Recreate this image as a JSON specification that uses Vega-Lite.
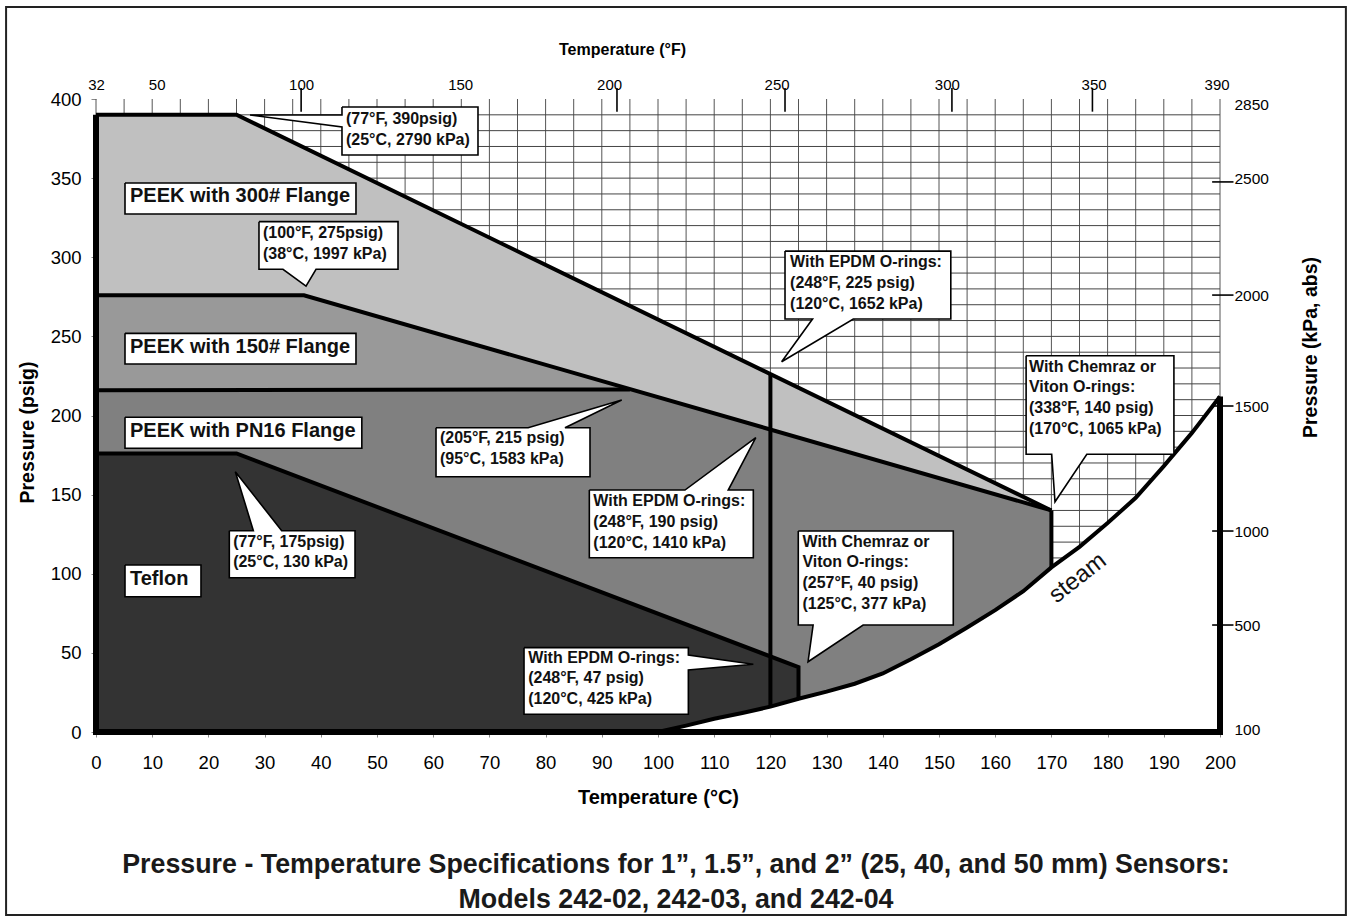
{
  "$schema": "https://vega.github.io/schema/vega-lite/v6.json",
  "width": 1124,
  "height": 633,
  "autosize": {"type": "none"},
  "padding": {"left": 96, "top": 99, "right": 128, "bottom": 187},
  "background": "white",
  "config": {
    "view": {"stroke": null},
    "axis": {"labelFont": "Liberation Sans", "titleFont": "Liberation Sans", "labelColor": "#000", "titleColor": "#000"},
    "text": {"font": "Liberation Sans"}
  },
  "resolve": {"axis": {"x": "independent", "y": "independent"}},
  "datasets": {
    "frame": [{"x1": -16.0, "x2": 222.4, "y1": -115.6, "y2": 458.1}],
    "gridV": [{"c":0},{"c":5},{"c":10},{"c":15},{"c":20},{"c":25},{"c":30},{"c":35},{"c":40},{"c":45},{"c":50},{"c":55},{"c":60},{"c":65},{"c":70},{"c":75},{"c":80},{"c":85},{"c":90},{"c":95},{"c":100},{"c":105},{"c":110},{"c":115},{"c":120},{"c":125},{"c":130},{"c":135},{"c":140},{"c":145},{"c":150},{"c":155},{"c":160},{"c":165},{"c":170},{"c":175},{"c":180},{"c":185},{"c":190},{"c":195},{"c":200}],
    "gridH": [{"p":10},{"p":20},{"p":30},{"p":40},{"p":50},{"p":60},{"p":70},{"p":80},{"p":90},{"p":100},{"p":110},{"p":120},{"p":130},{"p":140},{"p":150},{"p":160},{"p":170},{"p":180},{"p":190},{"p":200},{"p":210},{"p":220},{"p":230},{"p":240},{"p":250},{"p":260},{"p":270},{"p":280},{"p":290},{"p":300},{"p":310},{"p":320},{"p":330},{"p":340},{"p":350},{"p":360},{"p":370},{"p":380},{"p":390}],
    "polys": [
      {"id":"white","i":0,"t":100,"p":0},{"id":"white","i":1,"t":105,"p":4},{"id":"white","i":2,"t":110,"p":8.4},{"id":"white","i":3,"t":115,"p":12},{"id":"white","i":4,"t":120,"p":16},{"id":"white","i":5,"t":125,"p":21},{"id":"white","i":6,"t":130,"p":25.5},{"id":"white","i":7,"t":135,"p":30.5},{"id":"white","i":8,"t":140,"p":37},{"id":"white","i":9,"t":145,"p":46},{"id":"white","i":10,"t":150,"p":55.5},{"id":"white","i":11,"t":155,"p":66},{"id":"white","i":12,"t":160,"p":77},{"id":"white","i":13,"t":165,"p":89},{"id":"white","i":14,"t":170,"p":104},{"id":"white","i":15,"t":175,"p":117},{"id":"white","i":16,"t":180,"p":132},{"id":"white","i":17,"t":185,"p":148},{"id":"white","i":18,"t":190,"p":168},{"id":"white","i":19,"t":195,"p":189},{"id":"white","i":20,"t":200,"p":212},{"id":"white","i":21,"t":200,"p":0},{"id":"white","i":22,"t":100,"p":0},

      {"id":"p300","i":0,"t":0,"p":0},{"id":"p300","i":1,"t":0,"p":390},{"id":"p300","i":2,"t":25,"p":390},{"id":"p300","i":3,"t":170,"p":140},{"id":"p300","i":4,"t":170,"p":104},{"id":"p300","i":5,"t":165,"p":89},{"id":"p300","i":6,"t":160,"p":77},{"id":"p300","i":7,"t":155,"p":66},{"id":"p300","i":8,"t":150,"p":55.5},{"id":"p300","i":9,"t":145,"p":46},{"id":"p300","i":10,"t":140,"p":37},{"id":"p300","i":11,"t":135,"p":30.5},{"id":"p300","i":12,"t":130,"p":25.5},{"id":"p300","i":13,"t":125,"p":21},{"id":"p300","i":14,"t":120,"p":16},{"id":"p300","i":15,"t":115,"p":12},{"id":"p300","i":16,"t":110,"p":8.4},{"id":"p300","i":17,"t":105,"p":4},{"id":"p300","i":18,"t":100,"p":0},{"id":"p300","i":19,"t":0,"p":0},

      {"id":"p150","i":0,"t":0,"p":0},{"id":"p150","i":1,"t":0,"p":276},{"id":"p150","i":2,"t":37,"p":276},{"id":"p150","i":3,"t":170,"p":140},{"id":"p150","i":4,"t":170,"p":104},{"id":"p150","i":5,"t":165,"p":89},{"id":"p150","i":6,"t":160,"p":77},{"id":"p150","i":7,"t":155,"p":66},{"id":"p150","i":8,"t":150,"p":55.5},{"id":"p150","i":9,"t":145,"p":46},{"id":"p150","i":10,"t":140,"p":37},{"id":"p150","i":11,"t":135,"p":30.5},{"id":"p150","i":12,"t":130,"p":25.5},{"id":"p150","i":13,"t":125,"p":21},{"id":"p150","i":14,"t":120,"p":16},{"id":"p150","i":15,"t":115,"p":12},{"id":"p150","i":16,"t":110,"p":8.4},{"id":"p150","i":17,"t":105,"p":4},{"id":"p150","i":18,"t":100,"p":0},{"id":"p150","i":19,"t":0,"p":0},

      {"id":"pn16","i":0,"t":0,"p":0},{"id":"pn16","i":1,"t":0,"p":216},{"id":"pn16","i":2,"t":95,"p":216.5},{"id":"pn16","i":3,"t":170,"p":140},{"id":"pn16","i":4,"t":170,"p":104},{"id":"pn16","i":5,"t":165,"p":89},{"id":"pn16","i":6,"t":160,"p":77},{"id":"pn16","i":7,"t":155,"p":66},{"id":"pn16","i":8,"t":150,"p":55.5},{"id":"pn16","i":9,"t":145,"p":46},{"id":"pn16","i":10,"t":140,"p":37},{"id":"pn16","i":11,"t":135,"p":30.5},{"id":"pn16","i":12,"t":130,"p":25.5},{"id":"pn16","i":13,"t":125,"p":21},{"id":"pn16","i":14,"t":120,"p":16},{"id":"pn16","i":15,"t":115,"p":12},{"id":"pn16","i":16,"t":110,"p":8.4},{"id":"pn16","i":17,"t":105,"p":4},{"id":"pn16","i":18,"t":100,"p":0},{"id":"pn16","i":19,"t":0,"p":0},

      {"id":"teflon","i":0,"t":0,"p":0},{"id":"teflon","i":1,"t":0,"p":176},{"id":"teflon","i":2,"t":25,"p":176},{"id":"teflon","i":3,"t":125,"p":41},{"id":"teflon","i":4,"t":125,"p":21},{"id":"teflon","i":5,"t":120,"p":16},{"id":"teflon","i":6,"t":115,"p":12},{"id":"teflon","i":7,"t":110,"p":8.4},{"id":"teflon","i":8,"t":105,"p":4},{"id":"teflon","i":9,"t":100,"p":0},{"id":"teflon","i":10,"t":0,"p":0}
    ],
    "lines": [
      {"id":"L300","i":0,"t":0,"p":390},{"id":"L300","i":1,"t":25,"p":390},{"id":"L300","i":2,"t":170,"p":140},
      {"id":"L150","i":0,"t":0,"p":276},{"id":"L150","i":1,"t":37,"p":276},{"id":"L150","i":2,"t":170,"p":140},
      {"id":"LPN16","i":0,"t":0,"p":216},{"id":"LPN16","i":1,"t":95,"p":216.5},
      {"id":"LTef","i":0,"t":0,"p":176},{"id":"LTef","i":1,"t":25,"p":176},{"id":"LTef","i":2,"t":125,"p":41},{"id":"LTef","i":3,"t":125,"p":21},
      {"id":"L170","i":0,"t":170,"p":140},{"id":"L170","i":1,"t":170,"p":104},
      {"id":"L120","i":0,"t":120,"p":226},{"id":"L120","i":1,"t":120,"p":16},
      {"id":"steam","i":0,"t":100,"p":0},{"id":"steam","i":1,"t":105,"p":4},{"id":"steam","i":2,"t":110,"p":8.4},{"id":"steam","i":3,"t":115,"p":12},{"id":"steam","i":4,"t":120,"p":16},{"id":"steam","i":5,"t":125,"p":21},{"id":"steam","i":6,"t":130,"p":25.5},{"id":"steam","i":7,"t":135,"p":30.5},{"id":"steam","i":8,"t":140,"p":37},{"id":"steam","i":9,"t":145,"p":46},{"id":"steam","i":10,"t":150,"p":55.5},{"id":"steam","i":11,"t":155,"p":66},{"id":"steam","i":12,"t":160,"p":77},{"id":"steam","i":13,"t":165,"p":89},{"id":"steam","i":14,"t":170,"p":104},{"id":"steam","i":15,"t":175,"p":117},{"id":"steam","i":16,"t":180,"p":132},{"id":"steam","i":17,"t":185,"p":148},{"id":"steam","i":18,"t":190,"p":168},{"id":"steam","i":19,"t":195,"p":189},{"id":"steam","i":20,"t":200,"p":212}
    ],
    "frameLines": [
      {"id":"F","i":0,"t":0,"p":390},{"id":"F","i":1,"t":0,"p":0},{"id":"F","i":2,"t":200,"p":0},{"id":"F","i":3,"t":200,"p":212}
    ],
    "callouts": [
      {"id":"A","i":0,"t":43.77,"p":394.9},{"id":"A","i":1,"t":67.97,"p":394.9},{"id":"A","i":2,"t":67.97,"p":364.6},{"id":"A","i":3,"t":43.77,"p":364.6},{"id":"A","i":4,"t":43.77,"p":382.3},{"id":"A","i":5,"t":27.4,"p":389.9},{"id":"A","i":6,"t":43.77,"p":389.9},{"id":"A","i":7,"t":43.77,"p":394.9},
      {"id":"B","i":0,"t":5.16,"p":346.9},{"id":"B","i":1,"t":46.26,"p":346.9},{"id":"B","i":2,"t":46.26,"p":327.3},{"id":"B","i":3,"t":5.16,"p":327.3},{"id":"B","i":4,"t":5.16,"p":346.9},
      {"id":"C","i":0,"t":29.0,"p":322.5},{"id":"C","i":1,"t":53.74,"p":322.5},{"id":"C","i":2,"t":53.74,"p":292.4},{"id":"C","i":3,"t":39.15,"p":292.4},{"id":"C","i":4,"t":37.37,"p":281.8},{"id":"C","i":5,"t":33.27,"p":292.4},{"id":"C","i":6,"t":29.0,"p":292.4},{"id":"C","i":7,"t":29.0,"p":322.5},
      {"id":"D","i":0,"t":5.16,"p":251.9},{"id":"D","i":1,"t":46.26,"p":251.9},{"id":"D","i":2,"t":46.26,"p":232.5},{"id":"D","i":3,"t":5.16,"p":232.5},{"id":"D","i":4,"t":5.16,"p":251.9},
      {"id":"E","i":0,"t":5.16,"p":198.9},{"id":"E","i":1,"t":47.3,"p":198.9},{"id":"E","i":2,"t":47.3,"p":179.3},{"id":"E","i":3,"t":5.16,"p":179.3},{"id":"E","i":4,"t":5.16,"p":198.9},
      {"id":"F","i":0,"t":5.16,"p":105.5},{"id":"F","i":1,"t":18.68,"p":105.5},{"id":"F","i":2,"t":18.68,"p":85.5},{"id":"F","i":3,"t":5.16,"p":85.5},{"id":"F","i":4,"t":5.16,"p":105.5},
      {"id":"G","i":0,"t":23.72,"p":127.2},{"id":"G","i":1,"t":28.0,"p":127.2},{"id":"G","i":2,"t":24.79,"p":164.5},{"id":"G","i":3,"t":33.04,"p":127.2},{"id":"G","i":4,"t":46.09,"p":127.2},{"id":"G","i":5,"t":46.09,"p":97.5},{"id":"G","i":6,"t":23.72,"p":97.5},{"id":"G","i":7,"t":23.72,"p":127.2},
      {"id":"H","i":0,"t":60.5,"p":192.3},{"id":"H","i":1,"t":76.9,"p":192.3},{"id":"H","i":2,"t":93.54,"p":209.8},{"id":"H","i":3,"t":83.45,"p":192.3},{"id":"H","i":4,"t":87.9,"p":192.3},{"id":"H","i":5,"t":87.9,"p":161.3},{"id":"H","i":6,"t":60.5,"p":161.3},{"id":"H","i":7,"t":60.5,"p":192.3},
      {"id":"I","i":0,"t":87.78,"p":152.9},{"id":"I","i":1,"t":104.8,"p":152.9},{"id":"I","i":2,"t":117.4,"p":186.0},{"id":"I","i":3,"t":112.5,"p":152.9},{"id":"I","i":4,"t":116.96,"p":152.9},{"id":"I","i":5,"t":116.96,"p":110.1},{"id":"I","i":6,"t":87.78,"p":110.1},{"id":"I","i":7,"t":87.78,"p":152.9},
      {"id":"J","i":0,"t":122.6,"p":303.9},{"id":"J","i":1,"t":152.1,"p":303.9},{"id":"J","i":2,"t":152.1,"p":261.0},{"id":"J","i":3,"t":134.75,"p":261.0},{"id":"J","i":4,"t":122.0,"p":234.0},{"id":"J","i":5,"t":127.5,"p":261.0},{"id":"J","i":6,"t":122.6,"p":261.0},{"id":"J","i":7,"t":122.6,"p":303.9},
      {"id":"K","i":0,"t":165.5,"p":237.8},{"id":"K","i":1,"t":191.8,"p":237.8},{"id":"K","i":2,"t":191.8,"p":175.5},{"id":"K","i":3,"t":176.3,"p":175.5},{"id":"K","i":4,"t":170.64,"p":145.5},{"id":"K","i":5,"t":170.05,"p":175.5},{"id":"K","i":6,"t":165.5,"p":175.5},{"id":"K","i":7,"t":165.5,"p":237.8},
      {"id":"L","i":0,"t":124.96,"p":127.0},{"id":"L","i":1,"t":152.54,"p":127.0},{"id":"L","i":2,"t":152.54,"p":67.6},{"id":"L","i":3,"t":136.5,"p":67.6},{"id":"L","i":4,"t":126.7,"p":44.4},{"id":"L","i":5,"t":127.6,"p":67.6},{"id":"L","i":6,"t":124.96,"p":67.6},{"id":"L","i":7,"t":124.96,"p":127.0},
      {"id":"M","i":0,"t":76.16,"p":53.3},{"id":"M","i":1,"t":105.4,"p":53.3},{"id":"M","i":2,"t":105.4,"p":48.66},{"id":"M","i":3,"t":116.96,"p":42.8},{"id":"M","i":4,"t":105.4,"p":39.2},{"id":"M","i":5,"t":105.4,"p":11.2},{"id":"M","i":6,"t":76.16,"p":11.2},{"id":"M","i":7,"t":76.16,"p":53.3}
    ],
    "calloutText": [
      {"t":44.48,"p":384.2,"label":"(77°F, 390psig)\n(25°C, 2790 kPa)"},
      {"t":29.7,"p":312.2,"label":"(100°F, 275psig)\n(38°C, 1997 kPa)"},
      {"t":24.4,"p":117.1,"label":"(77°F, 175psig)\n(25°C, 130 kPa)"},
      {"t":61.2,"p":182.6,"label":"(205°F, 215 psig)\n(95°C, 1583 kPa)"},
      {"t":88.5,"p":142.8,"label":"With EPDM O-rings:\n(248°F, 190 psig)\n(120°C, 1410 kPa)"},
      {"t":123.5,"p":293.8,"label":"With EPDM O-rings:\n(248°F, 225 psig)\n(120°C, 1652 kPa)"},
      {"t":166.0,"p":227.7,"label":"With Chemraz or\nViton O-rings:\n(338°F, 140 psig)\n(170°C, 1065 kPa)"},
      {"t":125.7,"p":117.1,"label":"With Chemraz or\nViton O-rings:\n(257°F, 40 psig)\n(125°C, 377 kPa)"},
      {"t":76.9,"p":43.8,"label":"With EPDM O-rings:\n(248°F, 47 psig)\n(120°C, 425 kPa)"}
    ],
    "regionText": [
      {"t":6.05,"p":334.9,"label":"PEEK with 300# Flange"},
      {"t":6.05,"p":239.5,"label":"PEEK with 150# Flange"},
      {"t":6.05,"p":186.4,"label":"PEEK with PN16 Flange"},
      {"t":6.05,"p":92.9,"label":"Teflon"}
    ],
    "steamText": [{"t":174.7,"p":97.3,"label":"steam"}],
    "kTicks": [{"p":347.6},{"p":276.1},{"p":206.0},{"p":127.0},{"p":67.6}],
    "fTicks": [{"c":36.5},{"c":92.7},{"c":122.6},{"c":152.3},{"c":177.3}],
    "titleLines": [
      {"t":103.2,"p":-89.1,"label":"Pressure - Temperature Specifications for 1”, 1.5”, and 2” (25, 40, and 50 mm) Sensors:"},
      {"t":103.2,"p":-111.2,"label":"Models 242-02, 242-03, and 242-04"}
    ]
  },
  "layer": [
    {
      "data": {"name": "frame"},
      "mark": {"type": "rect", "fill": "white", "fillOpacity": 0, "stroke": "#222", "strokeWidth": 2},
      "encoding": {
        "x": {"field": "x1", "type": "quantitative", "scale": {"domain": [0, 200], "nice": false, "zero": false}, "axis": null},
        "x2": {"field": "x2"},
        "y": {"field": "y1", "type": "quantitative", "scale": {"domain": [0, 400], "nice": false}, "axis": null},
        "y2": {"field": "y2"}
      }
    },
    {
      "data": {"name": "gridV"},
      "mark": {"type": "rule", "stroke": "#555", "strokeWidth": 1},
      "encoding": {
        "x": {"field": "c", "type": "quantitative", "scale": {"domain": [0, 200], "nice": false, "zero": false},
          "axis": {"orient": "bottom", "values": [0,10,20,30,40,50,60,70,80,90,100,110,120,130,140,150,160,170,180,190,200],
            "grid": false, "domain": false, "ticks": true, "tickSize": 5, "tickColor": "#888", "tickWidth": 1,
            "labelFontSize": 18.5, "labelBaseline": "alphabetic", "labelPadding": 31, "labelFlush": false, "labelOverlap": false,
            "title": "Temperature (°C)", "titleFontSize": 20, "titleFontWeight": "bold", "titleBaseline": "alphabetic", "titleX": 562, "titleY": 71}},
        "y": {"datum": 0, "type": "quantitative", "scale": {"domain": [0, 400], "nice": false}, "axis": null},
        "y2": {"datum": 400}
      }
    },
    {
      "data": {"name": "gridH"},
      "mark": {"type": "rule", "stroke": "#444", "strokeWidth": 1},
      "encoding": {
        "y": {"field": "p", "type": "quantitative", "scale": {"domain": [0, 400], "nice": false},
          "axis": {"orient": "left", "values": [0,50,100,150,200,250,300,350,400], "grid": false, "domain": false,
            "tickSize": 5, "tickColor": "#888", "tickWidth": 1, "labelFontSize": 18.5, "labelPadding": 10, "labelOverlap": false,
            "title": "Pressure (psig)", "titleFontSize": 19.5, "titleFontWeight": "bold", "titleAngle": 270, "titleBaseline": "middle", "titleX": -69, "titleY": 333}},
        "x": {"datum": 0, "type": "quantitative", "scale": {"domain": [0, 200], "nice": false, "zero": false}, "axis": null},
        "x2": {"datum": 200}
      }
    },
    {
      "data": {"name": "polys"},
      "transform": [{"filter": "datum.id === 'white'"}],
      "mark": {"type": "line", "fill": "white", "strokeOpacity": 0, "interpolate": "linear"},
      "encoding": {
        "x": {"field": "t", "type": "quantitative", "scale": {"domain": [0, 200], "nice": false, "zero": false}, "axis": null},
        "y": {"field": "p", "type": "quantitative", "scale": {"domain": [0, 400], "nice": false}, "axis": null},
        "order": {"field": "i", "type": "quantitative"}
      }
    },
    {
      "data": {"name": "polys"},
      "transform": [{"filter": "datum.id === 'p300'"}],
      "mark": {"type": "line", "fill": "#c0c0c0", "strokeOpacity": 0},
      "encoding": {
        "x": {"field": "t", "type": "quantitative", "scale": {"domain": [0, 200], "nice": false, "zero": false}, "axis": null},
        "y": {"field": "p", "type": "quantitative", "scale": {"domain": [0, 400], "nice": false}, "axis": null},
        "order": {"field": "i", "type": "quantitative"}
      }
    },
    {
      "data": {"name": "polys"},
      "transform": [{"filter": "datum.id === 'p150'"}],
      "mark": {"type": "line", "fill": "#999999", "strokeOpacity": 0},
      "encoding": {
        "x": {"field": "t", "type": "quantitative", "scale": {"domain": [0, 200], "nice": false, "zero": false}, "axis": null},
        "y": {"field": "p", "type": "quantitative", "scale": {"domain": [0, 400], "nice": false}, "axis": null},
        "order": {"field": "i", "type": "quantitative"}
      }
    },
    {
      "data": {"name": "polys"},
      "transform": [{"filter": "datum.id === 'pn16'"}],
      "mark": {"type": "line", "fill": "#808080", "strokeOpacity": 0},
      "encoding": {
        "x": {"field": "t", "type": "quantitative", "scale": {"domain": [0, 200], "nice": false, "zero": false}, "axis": null},
        "y": {"field": "p", "type": "quantitative", "scale": {"domain": [0, 400], "nice": false}, "axis": null},
        "order": {"field": "i", "type": "quantitative"}
      }
    },
    {
      "data": {"name": "polys"},
      "transform": [{"filter": "datum.id === 'teflon'"}],
      "mark": {"type": "line", "fill": "#333333", "strokeOpacity": 0},
      "encoding": {
        "x": {"field": "t", "type": "quantitative", "scale": {"domain": [0, 200], "nice": false, "zero": false}, "axis": null},
        "y": {"field": "p", "type": "quantitative", "scale": {"domain": [0, 400], "nice": false}, "axis": null},
        "order": {"field": "i", "type": "quantitative"}
      }
    },
    {
      "data": {"name": "lines"},
      "mark": {"type": "line", "stroke": "#000", "strokeWidth": 4, "strokeJoin": "miter"},
      "encoding": {
        "x": {"field": "t", "type": "quantitative", "scale": {"domain": [0, 200], "nice": false, "zero": false}, "axis": null},
        "y": {"field": "p", "type": "quantitative", "scale": {"domain": [0, 400], "nice": false}, "axis": null},
        "detail": {"field": "id", "type": "nominal"},
        "order": {"field": "i", "type": "quantitative"}
      }
    },
    {
      "data": {"name": "frameLines"},
      "mark": {"type": "line", "stroke": "#000", "strokeWidth": 6, "strokeJoin": "miter"},
      "encoding": {
        "x": {"field": "t", "type": "quantitative", "scale": {"domain": [0, 200], "nice": false, "zero": false}, "axis": null},
        "y": {"field": "p", "type": "quantitative", "scale": {"domain": [0, 400], "nice": false}, "axis": null},
        "order": {"field": "i", "type": "quantitative"}
      }
    },
    {
      "data": {"name": "callouts"},
      "mark": {"type": "line", "fill": "white", "stroke": "#000", "strokeWidth": 1.6, "strokeJoin": "miter"},
      "encoding": {
        "x": {"field": "t", "type": "quantitative", "scale": {"domain": [0, 200], "nice": false, "zero": false}, "axis": null},
        "y": {"field": "p", "type": "quantitative", "scale": {"domain": [0, 400], "nice": false}, "axis": null},
        "detail": {"field": "id", "type": "nominal"},
        "order": {"field": "i", "type": "quantitative"}
      }
    },
    {
      "data": {"name": "calloutText"},
      "mark": {"type": "text", "align": "left", "baseline": "alphabetic", "fontSize": 16, "fontWeight": "bold", "lineBreak": "\n", "lineHeight": 20.8, "color": "#111"},
      "encoding": {
        "x": {"field": "t", "type": "quantitative", "scale": {"domain": [0, 200], "nice": false, "zero": false}, "axis": null},
        "y": {"field": "p", "type": "quantitative", "scale": {"domain": [0, 400], "nice": false}, "axis": null},
        "text": {"field": "label"}
      }
    },
    {
      "data": {"name": "regionText"},
      "mark": {"type": "text", "align": "left", "baseline": "alphabetic", "fontSize": 20, "fontWeight": "bold", "color": "#111"},
      "encoding": {
        "x": {"field": "t", "type": "quantitative", "scale": {"domain": [0, 200], "nice": false, "zero": false}, "axis": null},
        "y": {"field": "p", "type": "quantitative", "scale": {"domain": [0, 400], "nice": false}, "axis": null},
        "text": {"field": "label"}
      }
    },
    {
      "data": {"name": "steamText"},
      "mark": {"type": "text", "align": "center", "baseline": "middle", "fontSize": 24, "angle": -38, "color": "#111"},
      "encoding": {
        "x": {"field": "t", "type": "quantitative", "scale": {"domain": [0, 200], "nice": false, "zero": false}, "axis": null},
        "y": {"field": "p", "type": "quantitative", "scale": {"domain": [0, 400], "nice": false}, "axis": null},
        "text": {"field": "label"}
      }
    },
    {
      "data": {"name": "kTicks"},
      "mark": {"type": "rule", "stroke": "#000", "strokeWidth": 1.6},
      "encoding": {
        "y": {"field": "p", "type": "quantitative", "scale": {"domain": [0, 400], "nice": false},
          "axis": {"orient": "right", "values": [1.3, 67.6, 127, 206, 276.1, 350, 396.8],
            "labelExpr": "['100','500','1000','1500','2000','2500','2850'][indexof([1.3, 67.6, 127, 206, 276.1, 350, 396.8], datum.value)]",
            "ticks": false, "tickSize": 0, "domain": false, "grid": false, "labelFontSize": 15.5, "labelPadding": 14, "labelAlign": "left", "labelBaseline": "middle", "labelOverlap": false,
            "title": "Pressure (kPa, abs)", "titleFontSize": 19.5, "titleFontWeight": "bold", "titleAngle": 270, "titleBaseline": "middle", "titleX": 90, "titleY": 248}},
        "x": {"datum": 198.6, "type": "quantitative", "scale": {"domain": [0, 200], "nice": false, "zero": false}, "axis": null},
        "x2": {"datum": 202.4}
      }
    },
    {
      "data": {"name": "fTicks"},
      "mark": {"type": "rule", "stroke": "#000", "strokeWidth": 1.6},
      "encoding": {
        "x": {"field": "c", "type": "quantitative", "scale": {"domain": [0, 200], "nice": false, "zero": false},
          "axis": {"orient": "top", "values": [0, 10.8, 36.5, 64.8, 91.3, 121.1, 151.4, 177.5, 199.4],
            "labelExpr": "['32','50','100','150','200','250','300','350','390'][indexof([0, 10.8, 36.5, 64.8, 91.3, 121.1, 151.4, 177.5, 199.4], datum.value)]",
            "ticks": false, "tickSize": 0, "domain": false, "grid": false, "labelFontSize": 15, "labelBaseline": "alphabetic", "labelPadding": 10, "labelFlush": false, "labelOverlap": false,
            "title": "Temperature (°F)", "titleFontSize": 16, "titleFontWeight": "bold", "titleBaseline": "alphabetic", "titleX": 526, "titleY": -45}},
        "y": {"datum": 392, "type": "quantitative", "scale": {"domain": [0, 400], "nice": false}, "axis": null},
        "y2": {"datum": 407}
      }
    },
    {
      "data": {"name": "titleLines"},
      "mark": {"type": "text", "align": "center", "baseline": "alphabetic", "fontSize": 26.8, "fontWeight": "bold", "color": "#1a1a1a"},
      "encoding": {
        "x": {"field": "t", "type": "quantitative", "scale": {"domain": [0, 200], "nice": false, "zero": false}, "axis": null},
        "y": {"field": "p", "type": "quantitative", "scale": {"domain": [0, 400], "nice": false}, "axis": null},
        "text": {"field": "label"}
      }
    }
  ]
}
